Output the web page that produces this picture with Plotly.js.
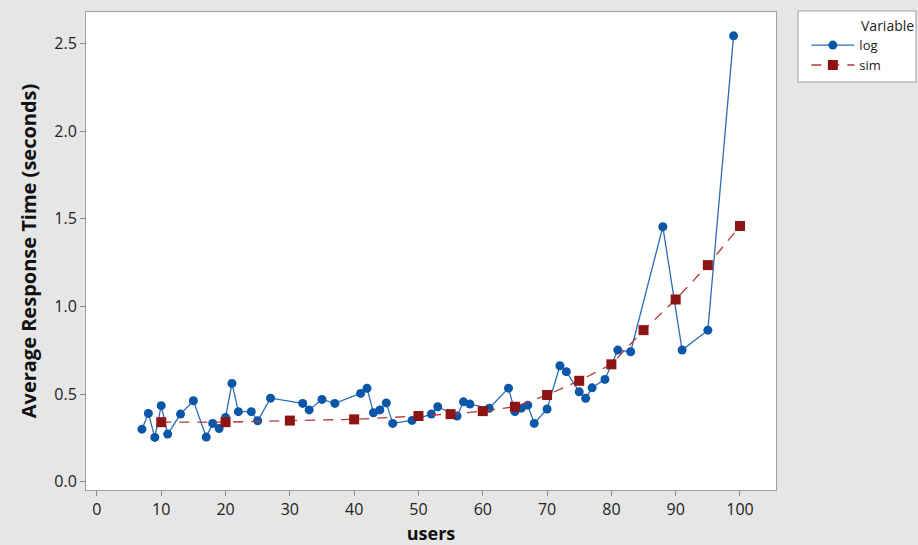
<!DOCTYPE html>
<html>
<head>
<meta charset="utf-8">
<script src="https://cdn.plot.ly/plotly-3.0.1.min.js"></script>
<style>html,body{margin:0;padding:0;background:#e6e6e6;}#chart{width:918px;height:545px;}</style>
</head>
<body>
<div id="chart"></div>
<script>
const logUsers = [7,8,9,10,11,13,15,17,18,19,20,21,22,24,25,27,32,33,35,37,41,42,43,44,45,46,49,52,53,56,57,58,61,64,65,66,67,68,70,72,73,75,76,77,79,81,83,88,91,95,99];
const logTime = [0.30,0.39,0.253,0.434,0.272,0.386,0.462,0.255,0.333,0.304,0.367,0.561,0.40,0.40,0.348,0.477,0.447,0.41,0.47,0.447,0.504,0.533,0.394,0.41,0.45,0.333,0.35,0.386,0.428,0.375,0.456,0.443,0.419,0.534,0.40,0.42,0.437,0.333,0.415,0.662,0.628,0.513,0.476,0.536,0.584,0.751,0.742,1.455,0.751,0.865,2.544];
const simUsers = [10,20,30,40,50,55,60,65,70,75,80,85,90,95,100];
const simTime = [0.34,0.34,0.349,0.356,0.375,0.386,0.403,0.428,0.495,0.576,0.670,0.865,1.04,1.236,1.459];
const xTicks = [0,10,20,30,40,50,60,70,80,90,100];
const yTicks = [0,0.5,1,1.5,2,2.5];

const font = "Open Sans, Noto Sans, DejaVu Sans, sans-serif";
const traces = [
  {x: logUsers, y: logTime, name: 'log', mode: 'lines+markers', type: 'scatter',
   line: {color: '#2b6cb8', width: 1.3},
   marker: {symbol: 'circle', size: 9, color: '#0a56a8'}},
  {x: simUsers, y: simTime, name: 'sim', mode: 'lines+markers', type: 'scatter',
   line: {color: '#b03a3a', width: 1.3, dash: '10px,8px'},
   marker: {symbol: 'square', size: 10, color: '#8e1414'}}
];
const layout = {
  width: 918, height: 545,
  paper_bgcolor: '#e6e6e6', plot_bgcolor: '#ffffff',
  margin: {l: 86, r: 142, t: 12, b: 55},
  font: {family: font, color: '#222', size: 16},
  showlegend: true,
  legend: {x: 1.044, y: 0.962, xanchor: 'left', yanchor: 'top',
    bgcolor: 'rgba(0,0,0,0)', borderwidth: 0, itemwidth: 43,
    font: {size: 13, family: font, color: '#222'},
    tracegroupgap: 0},
  shapes: [{type: 'rect', xref: 'paper', yref: 'paper', x0: 1.0319, x1: 1.2029, y0: 0.8536, y1: 1.0021,
    line: {color: '#a0a0a0', width: 1}, fillcolor: '#ffffff', layer: 'below'}],
  annotations: [{text: 'Variable', xref: 'paper', yref: 'paper', x: 1.1203, y: 0.9728,
    xanchor: 'left', yanchor: 'middle', showarrow: false, font: {size: 14, family: font, color: '#222'}}],
  xaxis: {range: [-1.7, 105.6], tickvals: xTicks, ticktext: xTicks.map(String),
    showgrid: false, zeroline: false, showline: true, mirror: true, linecolor: '#a0a0a0', linewidth: 1,
    ticks: 'outside', ticklen: 5, tickcolor: '#888',
    tickfont: {size: 16, family: font, color: '#222'},
    title: {text: '<b>users</b>', font: {size: 18, family: font, color: '#111'}, standoff: 10}},
  yaxis: {range: [-0.047, 2.68], tickvals: yTicks, ticktext: yTicks.map(v => v.toFixed(1)),
    showgrid: false, zeroline: false, showline: true, mirror: true, linecolor: '#a0a0a0', linewidth: 1,
    ticks: 'outside', ticklen: 5, tickcolor: '#888',
    tickfont: {size: 16, family: font, color: '#222'},
    title: {text: '<b>Average Response Time (seconds)</b>', font: {size: 20, family: font, color: '#111'}, standoff: 12}}
};
Plotly.newPlot('chart', traces, layout, {displayModeBar: false, staticPlot: true});
</script>
</body>
</html>
